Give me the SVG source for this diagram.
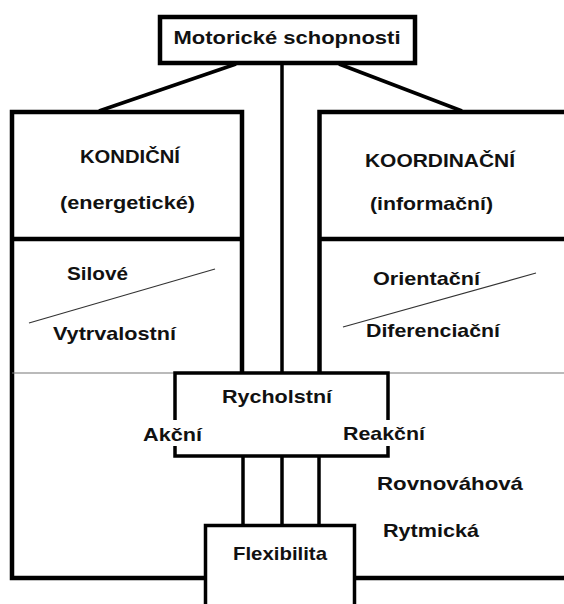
<svg xmlns="http://www.w3.org/2000/svg" width="564" height="604" viewBox="0 0 564 604">
<style>
.t{font-family:"Liberation Sans",Arial,sans-serif;font-weight:bold;font-size:19px;fill:#111;text-anchor:middle}
.thick{fill:none;stroke:#000;stroke-width:4.5}
.med{fill:none;stroke:#000;stroke-width:3.5}
.thin{fill:none;stroke:#777;stroke-width:1.2}
.diag{fill:none;stroke:#333;stroke-width:1.2}
</style>
<rect width="564" height="604" fill="#fff"/>
<g id="connectors">
<path class="med" d="M236,64 L99,111"/>
<path class="med" d="M339,64 L462,111"/>
<path class="med" d="M282,63 V373"/>
<path class="med" d="M243,456 V525"/>
<path class="med" d="M282,456 V525"/>
<path class="med" d="M319,456 V525"/>
</g>
<g id="motoricke">
<rect class="thick" x="160" y="17" width="255" height="46"/>
<text class="t" x="287" y="44" font-size="21" textLength="227" lengthAdjust="spacingAndGlyphs">Motorické schopnosti</text>
</g>
<g id="kondicni">
<path class="thick" d="M242,373 V112 H12 V578 H205"/>
<path class="thick" d="M12,239 H242"/>
<text class="t" x="130" y="163" textLength="100" lengthAdjust="spacingAndGlyphs">KONDIČNÍ</text>
<text class="t" x="127.5" y="209" textLength="135" lengthAdjust="spacingAndGlyphs">(energetické)</text>
<text class="t" x="97.5" y="280" textLength="61" lengthAdjust="spacingAndGlyphs">Silové</text>
<path class="diag" d="M29,323 L215,269"/>
<text class="t" x="114.5" y="340" textLength="123" lengthAdjust="spacingAndGlyphs">Vytrvalostní</text>
</g>
<g id="koordinacni">
<path class="thick" d="M564,112 H319.5 V373"/>
<path class="thick" d="M319,239 H564"/>
<path class="thick" d="M354,578 H564"/>
<text class="t" x="440" y="167" textLength="150" lengthAdjust="spacingAndGlyphs">KOORDINAČNÍ</text>
<text class="t" x="431.5" y="210" textLength="123" lengthAdjust="spacingAndGlyphs">(informační)</text>
<text class="t" x="426.5" y="285" textLength="107" lengthAdjust="spacingAndGlyphs">Orientační</text>
<path class="diag" d="M343,327 L536,273"/>
<text class="t" x="433" y="337" textLength="134" lengthAdjust="spacingAndGlyphs">Diferenciační</text>
<text class="t" x="450" y="490" textLength="146" lengthAdjust="spacingAndGlyphs">Rovnováhová</text>
<text class="t" x="431" y="537" textLength="96" lengthAdjust="spacingAndGlyphs">Rytmická</text>
</g>
<g id="separator">
<path class="thin" d="M12,373 H175 M388,373 H564"/>
</g>
<g id="rychlostni">
<path class="med" d="M175,420 V373 H388 V420"/>
<path class="med" d="M175,446 V456 H388 V446"/>
<text class="t" x="277" y="403" textLength="110" lengthAdjust="spacingAndGlyphs">Rycholstní</text>
<text class="t" x="172.5" y="441" textLength="59" lengthAdjust="spacingAndGlyphs">Akční</text>
<text class="t" x="384" y="440" textLength="82" lengthAdjust="spacingAndGlyphs">Reakční</text>
</g>
<g id="flexibilita">
<path class="med" d="M205.5,604 V525.5 H354.5 V604"/>
<text class="t" x="280" y="560" textLength="94" lengthAdjust="spacingAndGlyphs">Flexibilita</text>
</g>
</svg>
